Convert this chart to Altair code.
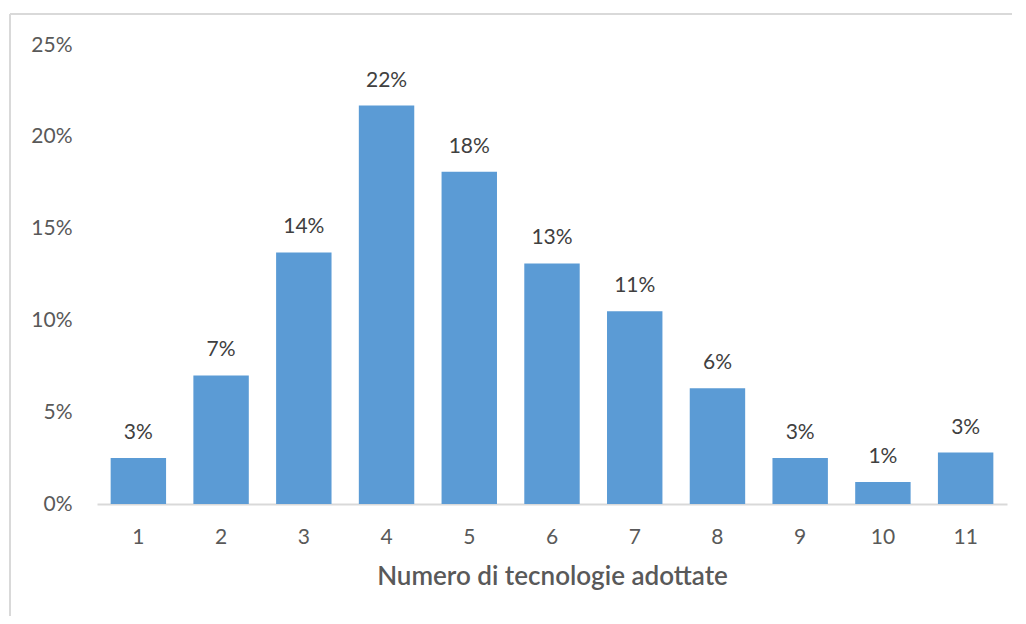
import altair as alt
import pandas as pd

categories = ["1", "2", "3", "4", "5", "6", "7", "8", "9", "10", "11"]
values = [0.025, 0.070, 0.137, 0.217, 0.181, 0.131, 0.105, 0.063, 0.025, 0.012, 0.028]
labels = ["3%", "7%", "14%", "22%", "18%", "13%", "11%", "6%", "3%", "1%", "3%"]
y_ticks = [0, 0.05, 0.10, 0.15, 0.20, 0.25]

df = pd.DataFrame({"cat": categories, "val": values, "lab": labels})

W, H = 910, 459
FONT = "Lato"

base = alt.Chart(df)
one = base.transform_filter("datum.cat == '1'")

frame_top = one.mark_rule(color="#d9d9d9", strokeWidth=2).encode(
    x=alt.value(-87), x2=alt.value(W + 300), y=alt.value(-31)
)
frame_left = one.mark_rule(color="#d9d9d9", strokeWidth=2).encode(
    x=alt.value(-87), y=alt.value(-31), y2=alt.value(H + 300)
)

bars = base.mark_bar(color="#5B9BD5").encode(
    x=alt.X("cat:N", sort=categories,
            scale=alt.Scale(paddingInner=0.33, paddingOuter=0.165),
            axis=alt.Axis(title="Numero di tecnologie adottate", labelAngle=0,
                          labelFont=FONT, labelFontSize=21, labelColor="#595959",
                          labelPadding=22, ticks=False, domainColor="#d9d9d9",
                          domainWidth=2, titleFont=FONT, titleFontSize=26,
                          titleFontWeight=600, titleColor="#595959", titlePadding=16)),
    y=alt.Y("val:Q", scale=alt.Scale(domain=[0, 0.25], nice=False),
            axis=alt.Axis(values=y_ticks, format=".0%", title=None, grid=False,
                          domain=False, ticks=False, labelFont=FONT, labelFontSize=21,
                          labelColor="#595959", labelPadding=25)),
)

text = base.mark_text(font=FONT, fontSize=21, color="#404040", baseline="alphabetic",
                      dy=-19).encode(
    x=alt.X("cat:N", sort=categories),
    y="val:Q",
    text="lab:N",
)

chart = alt.layer(frame_top, frame_left, bars, text).properties(
    width=W, height=H,
    background="white",
    autosize=alt.AutoSizeParams(type="none"),
    padding={"left": 89, "top": 37, "right": 5, "bottom": 112},
).configure_view(strokeWidth=0, stroke="transparent")

chart.save("out.html", embed_options={"renderer": "svg", "actions": False})
